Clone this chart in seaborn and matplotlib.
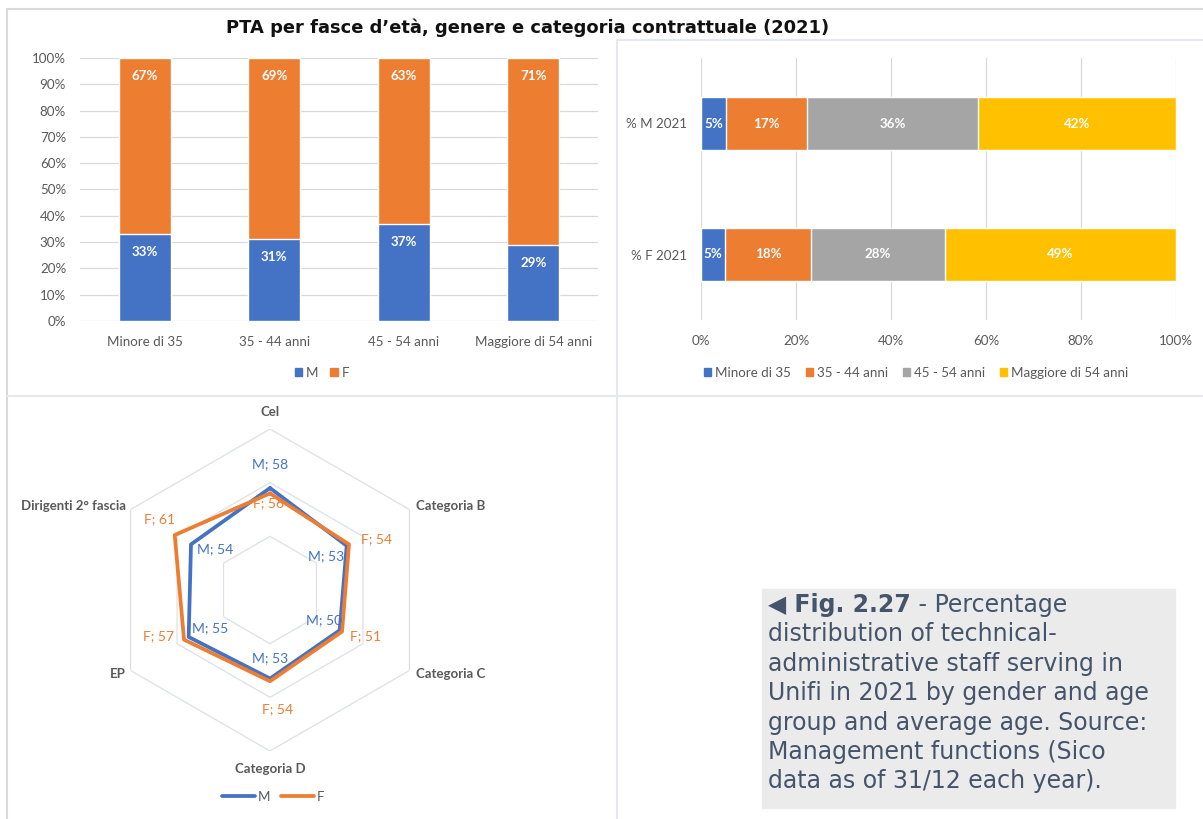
import matplotlib
matplotlib.use("Agg")
import matplotlib.pyplot as plt
import matplotlib.patches as mpatches
from matplotlib.lines import Line2D
import numpy as np
import pandas as pd
import seaborn as sns

# stacked columns: gender share inside each age band
age_groups = ["Minore di 35", "35 - 44 anni", "45 - 54 anni", "Maggiore di 54 anni"]
pct_m_by_age = [33, 31, 37, 29]
pct_f_by_age = [67, 69, 63, 71]

# stacked bars: age band share inside each gender
gender_rows = ["% M 2021", "% F 2021"]
age_share_m = [5.2, 17.2, 36.0, 41.6]
age_share_f = [5.0, 18.2, 28.2, 48.6]

# radar: average age by contract category
categories = ["Cel", "Categoria B", "Categoria C", "Categoria D", "EP", "Dirigenti 2° fascia"]
mean_age_m = [58, 53, 50, 53, 55, 54]
mean_age_f = [56, 54, 51, 54, 57, 61]
radar_rings = [40, 60, 80]

caption_lines = [
    "distribution of technical-",
    "administrative staff serving in",
    "Unifi in 2021 by gender and age",
    "group and average age. Source:",
    "Management functions (Sico",
    "data as of 31/12 each year).",
]

BLUE, ORANGE, GRAY, YELLOW = "#4472C4", "#ED7D31", "#A5A5A5", "#FFC000"
TXT = "#595959"
GRID = "#d9d9d9"
W, H = 1203, 819
FS = 9.6


def fx(px):
    return px / W


def fy(py):
    return 1 - py / H


sns.set_theme(style="white")
plt.rcParams["font.family"] = ["Lato", "DejaVu Sans"]

fig = plt.figure(figsize=(W / 100, H / 100), dpi=100)

# panel frames
for (x0, y0, x1, y1, c) in [
    (7, 9, W, 9, "#d9d9d9"), (7, 9, 7, H, "#d9d9d9"),
    (617, 40, W, 40, "#e6e8ed"), (617, 40, 617, H, "#e6e8ed"),
    (7, 396, W, 396, "#e6e8ed"),
]:
    fig.add_artist(Line2D([fx(x0), fx(x1)], [fy(y0), fy(y1)], color=c, lw=1.5,
                          transform=fig.transFigure))

fig.text(fx(528), fy(28), "PTA per fasce d\u2019età, genere e categoria contrattuale (2021)",
         ha="center", va="center", fontsize=12.9, weight="bold", family="DejaVu Sans",
         color="#111111")

# ---- left: columns
ax1 = fig.add_axes([fx(80), fy(321), 518 / W, 263 / H])
df1 = pd.DataFrame({"age": age_groups, "M": pct_m_by_age,
                    "total": np.add(pct_m_by_age, pct_f_by_age)})
sns.barplot(data=df1, x="age", y="total", color=ORANGE, width=0.4, saturation=1,
            errorbar=None, ax=ax1)
sns.barplot(data=df1, x="age", y="M", color=BLUE, width=0.4, saturation=1,
            errorbar=None, ax=ax1)
ax1.set_ylim(0, 100)
ax1.set_xlim(-0.5, 3.5)
ax1.set_yticks(range(0, 101, 10))
ax1.set_yticklabels([f"{v}%" for v in range(0, 101, 10)])
ax1.yaxis.grid(True, color=GRID, lw=0.9)
ax1.set_axisbelow(True)
ax1.set_xlabel("")
ax1.set_ylabel("")
for s in ax1.spines.values():
    s.set_visible(False)
ax1.tick_params(length=0, labelsize=FS, labelcolor=TXT)
ax1.tick_params(axis="x", pad=11)
ax1.tick_params(axis="y", pad=10)
for i, (m, f) in enumerate(zip(pct_m_by_age, pct_f_by_age)):
    ax1.annotate(f"{m}%", xy=(i, m), xytext=(0, -18), textcoords="offset pixels",
                 ha="center", va="center", color="white", weight="bold", fontsize=FS)
    ax1.annotate(f"{f}%", xy=(i, m + f), xytext=(0, -18), textcoords="offset pixels",
                 ha="center", va="center", color="white", weight="bold", fontsize=FS)
fig.legend(handles=[mpatches.Patch(color=BLUE, label="M"), mpatches.Patch(color=ORANGE, label="F")],
           loc="center", bbox_to_anchor=(fx(322), fy(373)), ncol=2, frameon=False,
           handlelength=0.55, handleheight=0.55, handletextpad=0.3, columnspacing=0.9,
           fontsize=FS, labelcolor=TXT)

# ---- right: horizontal stacked bars
ax2 = fig.add_axes([fx(701), fy(320), 475 / W, 262 / H])
shares = np.array([age_share_m, age_share_f])
cum = np.cumsum(shares, axis=1)
seg_colors = [BLUE, ORANGE, GRAY, YELLOW]
for k in reversed(range(4)):
    dfk = pd.DataFrame({"row": gender_rows, "val": cum[:, k]})
    sns.barplot(data=dfk, x="val", y="row", orient="h", color=seg_colors[k], width=0.4,
                saturation=1, errorbar=None, ax=ax2)
for r in range(2):
    for k in range(4):
        ax2.text(cum[r, k] - shares[r, k] / 2, r, f"{shares[r, k]:.0f}%", ha="center",
                 va="center", color="white", weight="bold", fontsize=FS)
ax2.set_xlim(0, 100)
ax2.set_ylim(1.5, -0.5)
ax2.set_xticks(range(0, 101, 20))
ax2.set_xticklabels([f"{v}%" for v in range(0, 101, 20)])
ax2.xaxis.grid(True, color=GRID, lw=0.9)
ax2.set_axisbelow(True)
ax2.set_xlabel("")
ax2.set_ylabel("")
for s in ax2.spines.values():
    s.set_visible(False)
ax2.tick_params(length=0, labelsize=FS, labelcolor=TXT)
ax2.tick_params(axis="x", pad=11)
ax2.tick_params(axis="y", pad=10)
fig.legend(handles=[mpatches.Patch(color=c, label=l) for c, l in zip(seg_colors, age_groups)],
           loc="center", bbox_to_anchor=(fx(916), fy(373)), ncol=4, frameon=False,
           handlelength=0.55, handleheight=0.55, handletextpad=0.3, columnspacing=1.1,
           fontsize=FS, labelcolor=TXT)

# ---- bottom-left: radar
R = 161
axr = fig.add_axes([fx(270 - R), fy(590 + R), 2 * R / W, 2 * R / H], projection="polar")
axr.set_theta_offset(np.pi / 2)
axr.set_theta_direction(-1)
axr.set_ylim(20, 80)
axr.set_axis_off()
theta = np.linspace(0, 2 * np.pi, len(categories) + 1)
for ring in radar_rings:
    axr.plot(theta, [ring] * len(theta), color="#dde0e6", lw=0.9, zorder=1)

dfr = pd.DataFrame({
    "theta": np.concatenate([theta, theta]),
    "age": mean_age_m + mean_age_m[:1] + mean_age_f + mean_age_f[:1],
    "sex": ["M"] * len(theta) + ["F"] * len(theta),
})
sns.lineplot(data=dfr, x="theta", y="age", hue="sex", palette={"M": BLUE, "F": ORANGE},
             sort=False, estimator=None, lw=2.7, legend=False, ax=axr, zorder=3)

m_off = [(0, -24), (-21, 10), (-16, -10), (0, -20), (21, -9), (24, 5)]
f_off = [(-1, 10), (28, -5), (24, 5), (8, 28), (-26, -3), (-15, -16)]
for k in range(len(categories)):
    axr.annotate(f"M; {mean_age_m[k]}", xy=(theta[k], mean_age_m[k]),
                 xytext=(m_off[k][0], -m_off[k][1]), textcoords="offset pixels",
                 ha="center", va="center", color=BLUE, fontsize=10, zorder=5)
    axr.annotate(f"F; {mean_age_f[k]}", xy=(theta[k], mean_age_f[k]),
                 xytext=(f_off[k][0], -f_off[k][1]), textcoords="offset pixels",
                 ha="center", va="center", color=ORANGE, fontsize=10, zorder=5)

cat_off = [((0, -17), "center"), ((7, -3), "left"), ((7, 4), "left"),
           ((0, 18), "center"), ((-5, 4), "right"), ((-5, -3), "right")]
for k, name in enumerate(categories):
    (dx, dy), ha = cat_off[k]
    axr.annotate(name, xy=(theta[k], radar_rings[-1]), xytext=(dx, -dy),
                 textcoords="offset pixels", ha=ha, va="center", color=TXT,
                 weight="bold", fontsize=9.5, annotation_clip=False)

fig.legend(handles=[Line2D([], [], color=BLUE, lw=2.7, label="M"),
                    Line2D([], [], color=ORANGE, lw=2.7, label="F")],
           loc="center", bbox_to_anchor=(fx(273), fy(797)), ncol=2, frameon=False,
           handlelength=2.5, handletextpad=0.2, columnspacing=0.8,
           fontsize=FS, labelcolor=TXT)

# ---- caption box
fig.add_artist(mpatches.Rectangle((fx(762), fy(808)), 413 / W, 219 / H, color="#ebebeb",
                                  transform=fig.transFigure, zorder=0))
CAP = "#44546a"
cap_kw = dict(family="DejaVu Sans", fontsize=17, color=CAP, va="center")
t1 = fig.text(fx(768), fy(605), "\u25c0 Fig. 2.27", weight="bold", **cap_kw)
bb = t1.get_window_extent(renderer=fig.canvas.get_renderer())
fig.text(bb.x1 / W, fy(605), " - Percentage", **cap_kw)
for i, line in enumerate(caption_lines):
    fig.text(fx(768), fy(605 + 29.4 * (i + 1)), line, **cap_kw)

fig.savefig("out.png", dpi=100)
